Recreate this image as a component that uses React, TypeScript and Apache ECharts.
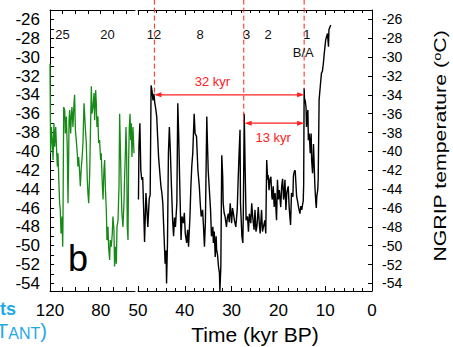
import React, { useEffect, useRef } from "react";
import * as echarts from "echarts";

const FONT = "'Liberation Sans', Arial, Helvetica, sans-serif";
const NARROW = "'Liberation Sans Narrow', 'Arial Narrow', 'Liberation Sans', sans-serif";
const RED = "#ff2020";
const GREEN = "#168a16";
const CYAN = "#1fa9e6";

const tempLabels = [-26, -28, -30, -32, -34, -36, -38, -40, -42, -44, -46, -48, -50, -52, -54];
const tempMinorTicks = [-26, -27, -28, -29, -30, -31, -32, -33, -34, -35, -36, -37, -38, -39, -40, -41, -42, -43, -44, -45, -46, -47, -48, -49, -50, -51, -52, -53, -54];
const earlyAgeLabels = [120, 80];
const earlyAgeTicks = [120, 110, 100, 90, 80, 70, 60];

// Green record (120 - 54 kyr BP)
const antarcticRecord: [number, number][] = [
  [120.0, -30.7], [119.5, -40.2], [119.0, -37.4], [118.2, -38.8], [117.6, -40.9], [116.9, -37.0], [116.3, -39.5],
  [115.5, -37.4], [114.7, -40.2], [114.2, -41.6], [113.7, -40.2], [112.9, -43.7], [112.4, -45.5], [111.9, -46.2],
  [111.3, -48.7], [110.5, -46.9], [110.0, -50.1], [109.8, -48.0], [109.2, -35.3], [108.4, -35.6], [107.9, -38.1],
  [107.1, -36.3], [106.4, -39.5], [105.8, -45.5], [105.3, -40.9], [105.0, -36.7], [104.5, -35.6], [103.7, -38.1],
  [103.2, -36.3], [102.7, -35.3], [101.9, -37.4], [101.1, -34.9], [100.6, -34.0], [100.0, -37.7], [99.3, -38.8],
  [98.5, -40.2], [98.0, -41.6], [97.4, -40.6], [96.6, -42.3], [96.1, -43.7], [95.3, -41.6], [94.8, -40.9],
  [94.0, -39.1], [93.2, -34.9], [92.7, -36.0], [92.2, -37.4], [91.4, -39.1], [90.6, -43.0], [90.1, -44.4],
  [89.5, -45.5], [88.7, -42.3], [88.0, -37.0], [87.4, -33.1], [86.9, -36.0], [86.1, -35.3], [85.3, -33.8],
  [84.8, -36.7], [84.0, -33.5], [83.5, -34.9], [83.0, -37.4], [82.2, -36.3], [81.7, -39.1], [80.9, -38.8],
  [80.1, -40.9], [79.6, -40.2], [78.8, -43.4], [78.2, -45.1], [77.5, -42.0], [76.9, -40.9], [76.4, -43.7],
  [75.6, -46.2], [75.1, -49.4], [74.3, -48.0], [73.8, -50.1], [73.0, -51.5], [72.5, -49.4], [71.7, -50.1],
  [70.9, -48.7], [70.4, -46.9], [69.6, -48.3], [69.1, -52.2], [68.3, -50.1], [67.7, -51.9], [67.2, -48.0],
  [66.4, -47.3], [65.6, -43.7], [65.1, -36.0], [64.6, -39.1], [63.8, -44.4], [63.3, -46.6], [62.5, -48.0],
  [61.7, -45.5], [61.2, -42.7], [60.6, -40.2], [60.1, -37.4], [59.6, -40.2], [59.1, -48.0], [58.5, -49.4],
  [58.0, -40.9], [57.5, -37.4], [56.9, -36.0], [56.4, -38.8], [55.9, -37.0], [55.4, -40.6], [54.6, -37.4],
  [53.8, -40.2],
];

// NGRIP temperature (50 - 9 kyr BP)
const ngripRecord: [number, number][] = [
  [49.9, -45.1], [49.8, -39.5], [49.6, -37.0], [49.4, -42.0], [49.2, -43.0], [49.0, -42.7], [48.8, -46.0],
  [48.6, -49.6], [48.3, -44.4], [48.1, -46.2], [47.9, -48.0], [47.6, -45.0], [47.4, -44.6], [47.2, -33.0],
  [47.0, -33.6], [46.8, -34.6], [46.6, -33.9], [46.4, -34.9], [46.2, -35.5], [46.0, -36.3], [45.8, -38.5],
  [45.6, -40.6], [45.3, -42.5], [45.1, -43.7], [44.9, -44.4], [44.7, -45.5], [44.4, -49.4], [44.2, -51.9],
  [44.0, -50.5], [43.9, -54.0], [43.7, -49.7], [43.5, -40.2], [43.3, -37.4], [43.1, -39.8], [42.9, -43.0],
  [42.6, -47.3], [42.4, -49.0], [42.2, -47.0], [42.0, -48.0], [41.7, -45.5], [41.5, -34.9], [41.3, -38.4],
  [41.1, -43.0], [40.8, -49.4], [40.6, -46.9], [40.3, -47.6], [40.1, -46.5], [39.9, -48.7], [39.6, -49.7],
  [39.4, -48.3], [39.2, -50.1], [38.9, -46.9], [38.7, -43.7], [38.5, -41.5], [38.3, -40.2], [38.0, -36.0],
  [37.8, -38.1], [37.5, -38.4], [37.2, -42.0], [36.9, -43.7], [36.7, -45.5], [36.5, -46.9], [36.2, -46.2],
  [36.0, -48.0], [35.8, -50.1], [35.6, -47.5], [35.4, -40.0], [35.3, -36.3], [35.2, -38.4], [35.0, -42.0],
  [34.8, -43.7], [34.5, -46.2], [34.3, -49.0], [34.0, -48.0], [33.9, -49.7], [33.7, -48.5], [33.5, -51.2],
  [33.3, -49.0], [33.2, -50.4], [33.0, -51.0], [32.8, -52.2], [32.6, -52.9], [32.5, -54.8], [32.3, -52.2],
  [32.2, -46.2], [32.1, -40.4], [31.9, -42.7], [31.8, -45.5], [31.6, -46.5], [31.4, -46.9], [31.1, -48.0],
  [30.9, -47.0], [30.7, -46.6], [30.5, -47.5], [30.3, -45.5], [30.0, -47.6], [29.8, -46.0], [29.6, -46.6],
  [29.4, -47.3], [29.1, -48.0], [28.8, -46.2], [28.6, -43.0], [28.4, -40.2], [28.2, -37.7], [28.1, -45.5],
  [27.8, -49.0], [27.6, -49.7], [27.5, -46.6], [27.3, -36.0], [27.1, -42.0], [26.9, -47.3], [26.6, -46.9],
  [26.4, -48.5], [26.2, -46.6], [25.9, -47.6], [25.7, -45.5], [25.5, -46.9], [25.2, -48.3], [25.0, -46.2],
  [24.8, -48.5], [24.6, -48.0], [24.3, -45.9], [24.1, -47.5], [23.9, -48.7], [23.6, -46.2], [23.4, -48.5],
  [23.2, -48.0], [22.9, -47.3], [22.7, -48.7], [22.5, -40.9], [22.3, -43.0], [22.2, -42.5], [22.0, -44.1],
  [21.8, -42.9], [21.6, -42.7], [21.4, -44.8], [21.3, -45.1], [21.1, -43.7], [20.9, -45.9], [20.7, -44.4],
  [20.4, -47.3], [20.2, -43.0], [20.0, -45.1], [19.8, -44.1], [19.5, -45.9], [19.3, -43.7], [19.1, -42.9],
  [18.9, -45.1], [18.8, -44.8], [18.6, -43.0], [18.4, -46.2], [18.2, -44.4], [18.1, -44.1], [17.9, -43.7],
  [17.7, -45.9], [17.5, -47.2], [17.4, -47.8], [17.2, -44.4], [16.9, -44.8], [16.8, -42.7], [16.7, -42.3],
  [16.5, -42.0], [16.4, -42.1], [16.1, -44.8], [15.9, -45.3], [15.7, -45.9], [15.4, -46.6], [15.2, -45.8],
  [15.0, -46.2], [14.8, -45.5], [14.7, -45.3], [14.6, -43.5], [14.5, -33.3], [14.4, -34.8], [14.3, -34.5],
  [14.1, -35.3], [14.0, -37.4], [13.8, -36.0], [13.7, -35.6], [13.6, -38.8], [13.4, -38.1], [13.2, -40.2],
  [13.0, -38.1], [12.9, -40.9], [12.7, -42.3], [12.5, -39.2], [12.3, -42.3], [12.2, -43.7], [12.0, -45.5],
  [11.9, -46.0], [11.8, -44.8], [11.6, -44.1], [11.5, -43.0], [11.3, -34.5], [11.0, -32.8], [10.8, -31.7],
  [10.6, -31.5], [10.4, -30.7], [10.2, -29.6], [9.9, -28.2], [9.7, -27.8], [9.5, -27.5], [9.3, -28.9],
  [9.2, -27.1], [9.0, -26.8], [8.8, -26.6],
];

// Annotations (data coordinates)
const eventLineAges = [46.5, 27.4, 14.5];
const eventLineEnds = [-34.0, -37.0, -33.4];
const spanArrows: [number, number, number][] = [[46.5, 14.5, -34.0], [27.2, 14.5, -37.0]];
const spanLabels = ["32 kyr", "13 kyr"];
const spanLabelAnchors: [number, number][] = [[34.1, -32.6], [21.1, -38.5]];
const lateEventNames = ["12", "8", "3", "2", "1", "B/A"];
const lateEventAnchors: [number, number][] = [[46.6, -27.6], [36.75, -27.6], [26.8, -27.6], [22.2, -27.6], [13.9, -27.6], [14.7, -29.5]];
const earlyEventNames = ["25", "20"];
const earlyEventAnchors: [number, number][] = [[110.1, -27.6], [74.7, -27.6]];

const axisLineStyle = { color: "#000", width: 1 };

function textSeries(xAxisIndex: number, yAxisIndex: number, names: string[], anchors: [number, number][], color: string, fontSize: number) {
  return {
    type: "custom",
    xAxisIndex,
    yAxisIndex,
    clip: false,
    silent: true,
    z: 5,
    data: anchors.map((p, i) => [p[0], p[1], i]),
    encode: { x: 0, y: 1 },
    renderItem: (_params: any, api: any) => {
      const pt = api.coord([api.value(0), api.value(1)]);
      return {
        type: "text",
        x: pt[0],
        y: pt[1],
        style: {
          text: names[api.value(2)],
          fill: color,
          fontSize,
          fontFamily: FONT,
          align: "center",
          verticalAlign: "middle",
        },
      };
    },
  };
}

export default function App() {
  const ref = useRef<HTMLDivElement>(null);

  useEffect(() => {
    if (!ref.current) return;
    const chart = echarts.init(ref.current, null, { renderer: "svg" });

    const xBase = (gridIndex: number) => ({
      gridIndex,
      type: "value",
      inverse: true,
      splitLine: { show: false },
      axisLine: { show: true, onZero: false, lineStyle: axisLineStyle },
    });

    const option: any = {
      animation: false,
      backgroundColor: "#ffffff",
      textStyle: { fontFamily: FONT },
      grid: [
        { left: 50, top: 10, width: 85, bottom: 56, outerBoundsMode: "none" },
        { left: 138, top: 10, right: 81, bottom: 56, outerBoundsMode: "none" },
      ],
      xAxis: [
        {
          ...xBase(0),
          min: 53,
          max: 120,
          position: "bottom",
          axisTick: { show: true, inside: true, length: 4, customValues: earlyAgeTicks, lineStyle: axisLineStyle },
          axisLabel: { customValues: earlyAgeLabels, fontSize: 17, margin: 11, color: "#000", fontFamily: FONT },
        },
        {
          ...xBase(0),
          min: 53,
          max: 120,
          position: "top",
          axisTick: { show: true, inside: true, length: 4, customValues: earlyAgeTicks, lineStyle: axisLineStyle },
          axisLabel: { show: false },
        },
        {
          ...xBase(1),
          min: 0,
          max: 50,
          interval: 10,
          position: "bottom",
          axisTick: { show: true, inside: true, length: 5, lineStyle: axisLineStyle },
          minorTick: { show: true, splitNumber: 5, length: 3, lineStyle: axisLineStyle },
          axisLabel: { fontSize: 17, margin: 11, color: "#000", fontFamily: FONT },
          name: "Time (kyr BP)",
          nameLocation: "middle",
          nameGap: 32,
          nameTextStyle: { fontSize: 21, color: "#000", fontFamily: FONT },
        },
        {
          ...xBase(1),
          min: 0,
          max: 50,
          interval: 10,
          position: "top",
          axisTick: { show: true, inside: true, length: 5, lineStyle: axisLineStyle },
          minorTick: { show: true, splitNumber: 5, length: 3, lineStyle: axisLineStyle },
          axisLabel: { show: false },
        },
      ],
      yAxis: [
        {
          gridIndex: 0,
          type: "value",
          min: -54.8,
          max: -25,
          position: "left",
          splitLine: { show: false },
          axisLine: { show: true, onZero: false, lineStyle: axisLineStyle },
          axisTick: { show: true, inside: true, length: 4, customValues: tempMinorTicks, lineStyle: axisLineStyle },
          axisLabel: { customValues: tempLabels, fontSize: 17, margin: 10, color: "#000", fontFamily: FONT },
        },
        {
          gridIndex: 1,
          type: "value",
          min: -54.8,
          max: -25,
          position: "right",
          splitLine: { show: false },
          axisLine: { show: true, onZero: false, lineStyle: axisLineStyle },
          axisTick: { show: true, inside: true, length: 4, customValues: tempLabels, lineStyle: axisLineStyle },
          axisLabel: { customValues: tempLabels, fontSize: 14, margin: 10, color: "#000", fontFamily: NARROW },
        },
      ],
      series: [
        {
          type: "line",
          name: "green",
          xAxisIndex: 0,
          yAxisIndex: 0,
          data: antarcticRecord,
          symbol: "none",
          lineStyle: { color: GREEN, width: 1.3 },
          itemStyle: { color: GREEN },
          silent: true,
        },
        {
          type: "line",
          name: "NGRIP",
          xAxisIndex: 2,
          yAxisIndex: 1,
          data: ngripRecord,
          symbol: "none",
          lineStyle: { color: "#000", width: 1.4 },
          itemStyle: { color: "#000" },
          silent: true,
        },
        {
          type: "custom",
          xAxisIndex: 2,
          yAxisIndex: 1,
          clip: false,
          silent: true,
          z: 4,
          data: eventLineAges.map((a, i) => [a, eventLineEnds[i]]),
          encode: { x: 0, y: 1 },
          renderItem: (_p: any, api: any) => {
            const top = api.coord([api.value(0), -23.9]);
            const bot = api.coord([api.value(0), api.value(1)]);
            return {
              type: "line",
              shape: { x1: top[0], y1: top[1], x2: bot[0], y2: bot[1] },
              style: { stroke: RED, lineWidth: 1, lineDash: [5, 3] },
            };
          },
        },
        {
          type: "custom",
          xAxisIndex: 2,
          yAxisIndex: 1,
          clip: false,
          silent: true,
          z: 4,
          data: spanArrows,
          encode: { x: [0, 1], y: 2 },
          renderItem: (_p: any, api: any) => {
            const a = api.coord([api.value(0), api.value(2)]);
            const b = api.coord([api.value(1), api.value(2)]);
            const x1 = Math.min(a[0], b[0]);
            const x2 = Math.max(a[0], b[0]);
            const y = a[1];
            const L = 7;
            const H = 2.5;
            return {
              type: "group",
              children: [
                { type: "line", shape: { x1: x1 + 2, y1: y, x2: x2 - 2, y2: y }, style: { stroke: RED, lineWidth: 1.2 } },
                { type: "polygon", shape: { points: [[x1, y], [x1 + L, y - H], [x1 + L, y + H]] }, style: { fill: RED } },
                { type: "polygon", shape: { points: [[x2, y], [x2 - L, y - H], [x2 - L, y + H]] }, style: { fill: RED } },
              ],
            };
          },
        },
        textSeries(2, 1, spanLabels, spanLabelAnchors, RED, 13),
        textSeries(2, 1, lateEventNames, lateEventAnchors, "#111", 13),
        textSeries(0, 0, earlyEventNames, earlyEventAnchors, "#111", 13),
      ],
      graphic: [
        {
          type: "text",
          x: 78,
          y: 258,
          style: { text: "b", fontSize: 36, fontFamily: FONT, fill: "#000", align: "center", verticalAlign: "middle" },
        },
        {
          type: "text",
          x: 440,
          y: 146,
          rotation: Math.PI / 2,
          scaleX: 1.33,
          style: {
            text: "{a|NGRIP temperature (}{s|o}{a|C)}",
            align: "center",
            verticalAlign: "middle",
            fill: "#000",
            rich: {
              a: { fontSize: 16, fontFamily: FONT, fill: "#000" },
              s: { fontSize: 11, fontFamily: FONT, fill: "#000", verticalAlign: "top" },
            },
          },
        },
        {
          type: "text",
          x: 16,
          y: 309,
          style: { text: "ts", fontSize: 18, fontWeight: "bold", fontFamily: FONT, fill: CYAN, align: "right", verticalAlign: "middle" },
        },
        {
          type: "text",
          x: -4,
          y: 331,
          style: {
            text: "{a|T}{s|ANT}{a|)}",
            align: "left",
            verticalAlign: "middle",
            fill: CYAN,
            rich: {
              a: { fontSize: 20, fontFamily: FONT, fill: CYAN },
              s: { fontSize: 16, fontFamily: FONT, fill: CYAN, verticalAlign: "bottom" },
            },
          },
        },
      ],
    };

    chart.setOption(option);
    return () => chart.dispose();
  }, []);

  return <div ref={ref} style={{ width: 453, height: 347, position: "absolute", left: 0, top: 0 }} />;
}
